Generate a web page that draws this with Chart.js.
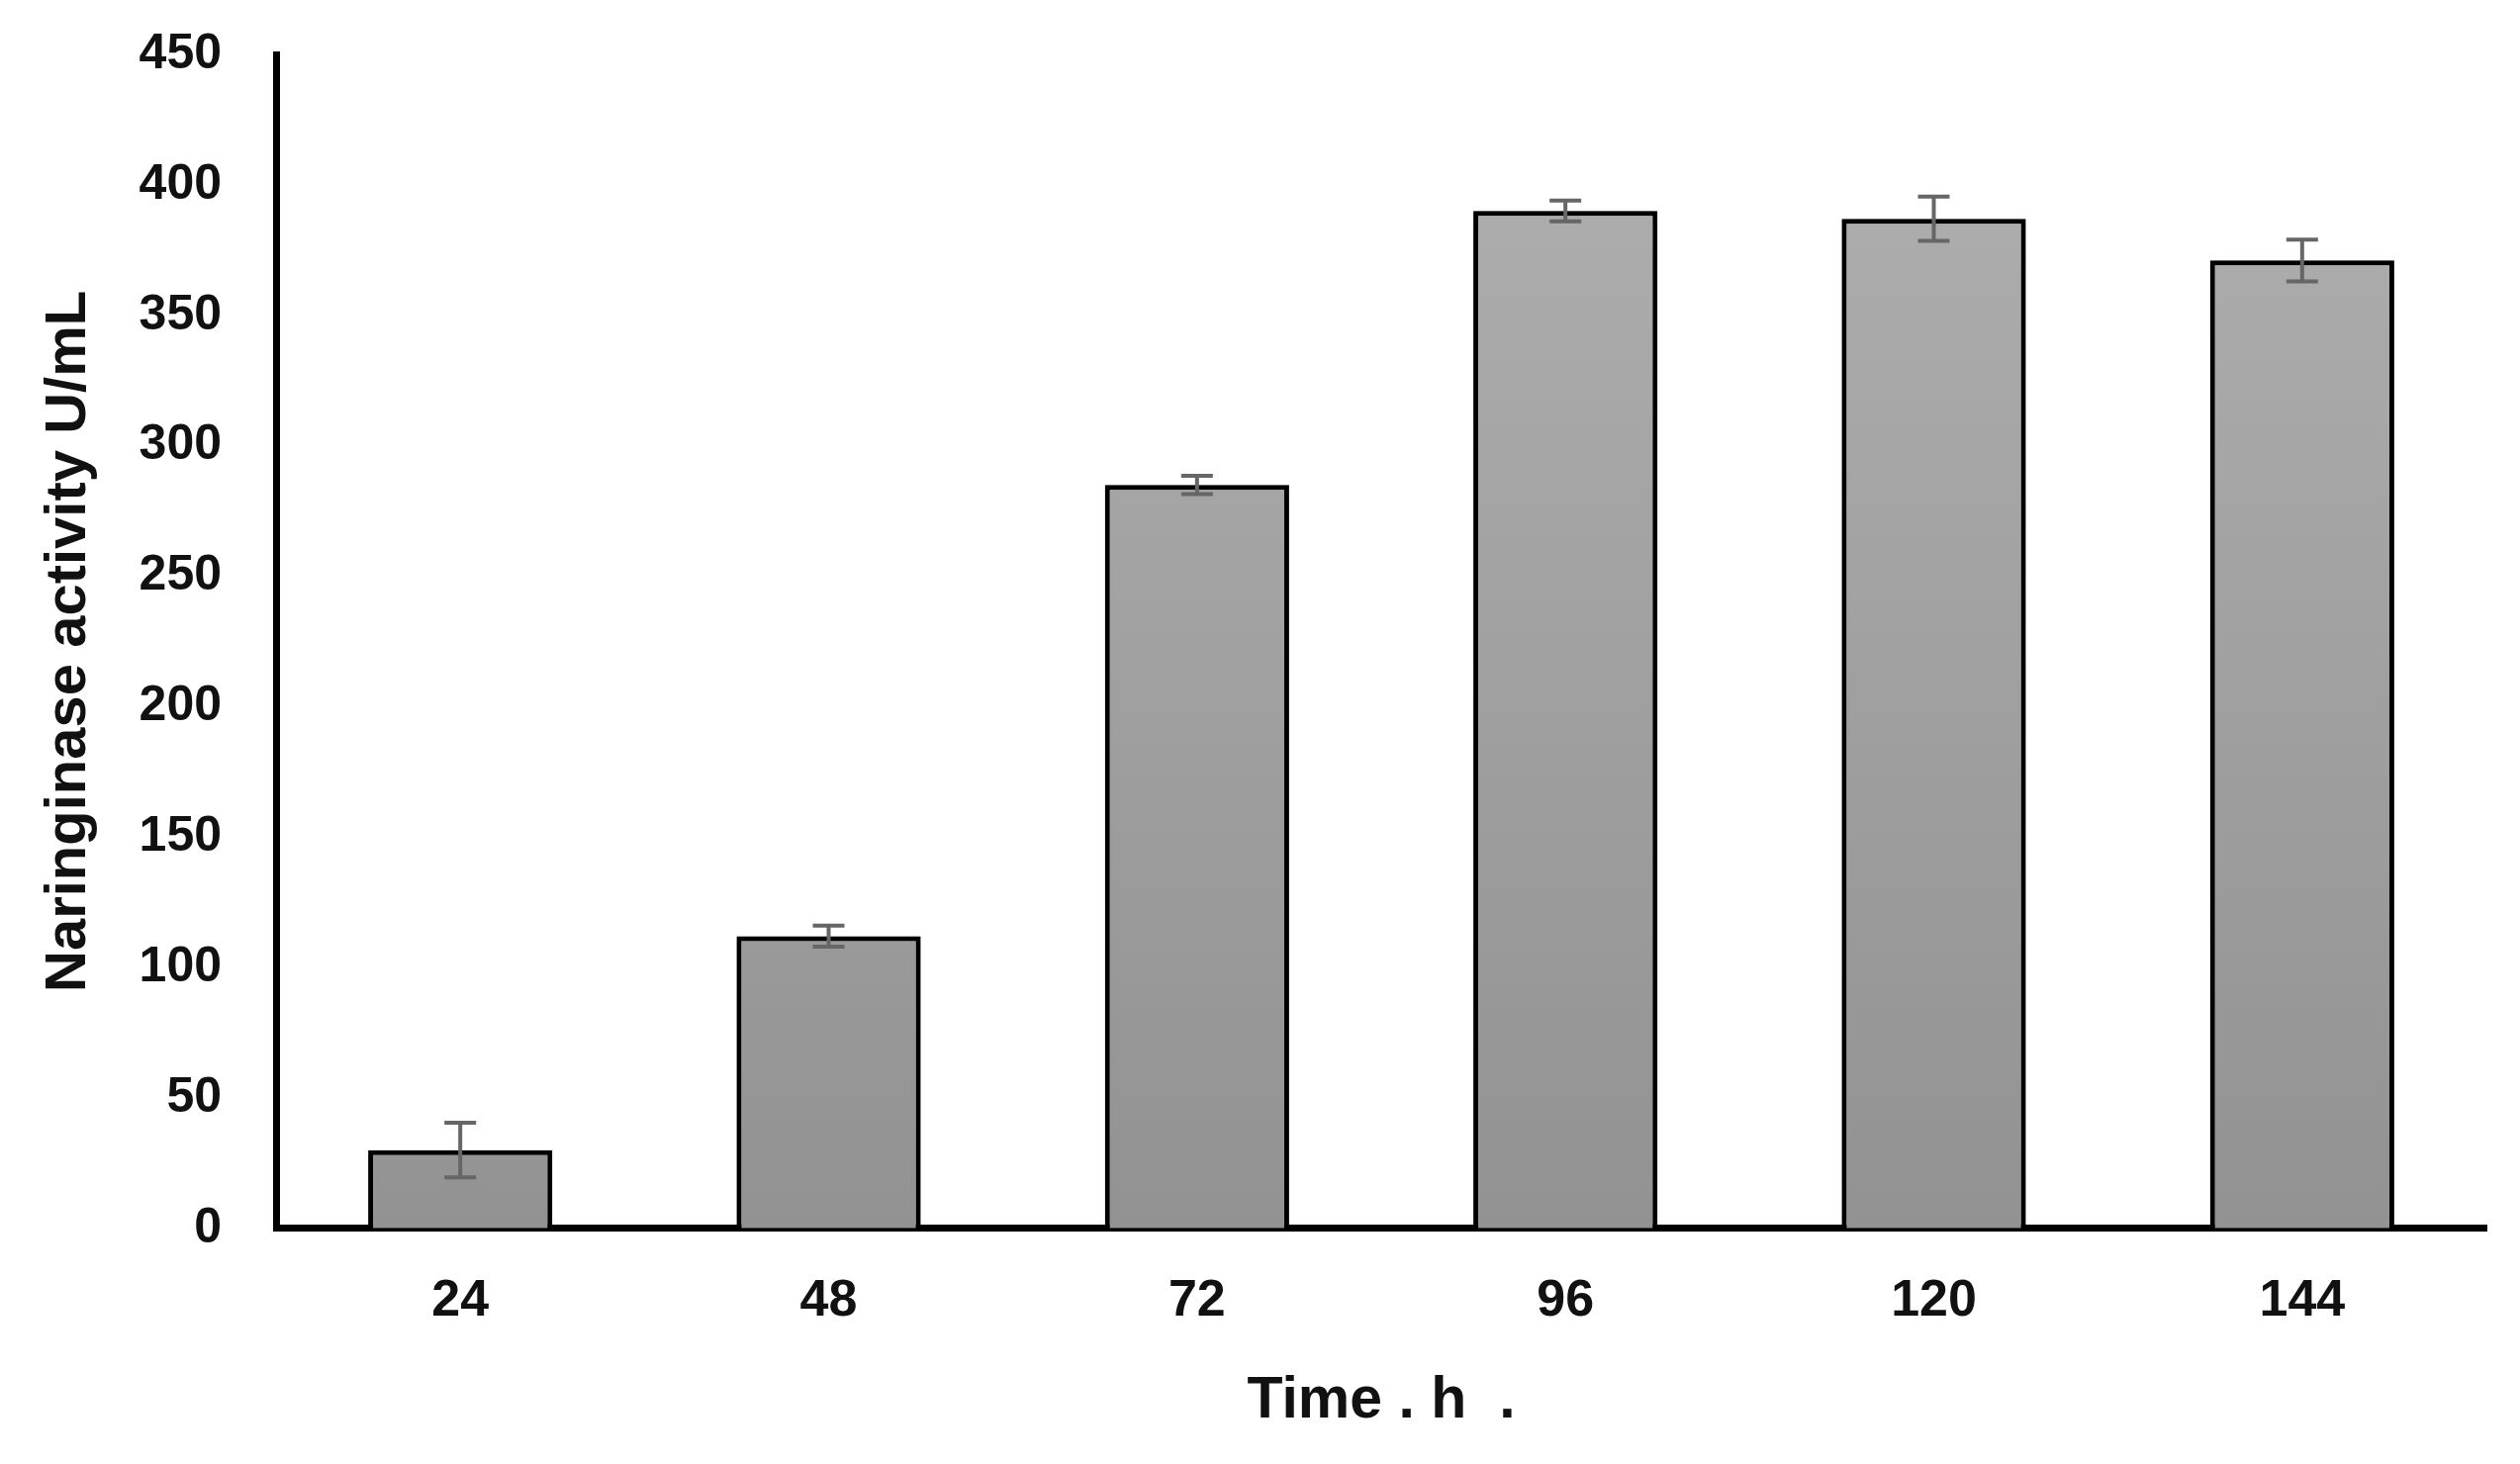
<!DOCTYPE html>
<html lang="en">
<head>
    <meta charset="UTF-8">
    <title>Naringinase Activity</title>
    <script src="https://cdn.jsdelivr.net/npm/chart.js"></script>
    <style>
        body { margin: 0; background: #fff; }
        #wrap { width: 2547px; height: 1480px; }
    </style>
</head>
<body>
    <div id="wrap"><canvas id="activityChart"></canvas></div>

    <script>
        // Data
        const times = ['24', '48', '72', '96', '120', '144'];
        const activity = [30, 112, 285, 390, 387, 371];
        const errors = [10.5, 4, 3.5, 4, 8.5, 8];
        const yTicks = [0, 50, 100, 150, 200, 250, 300, 350, 400, 450];

        const font = '"Liberation Sans", Arial, sans-serif';

        // gradient fill like the original bars
        function barFill(context) {
            const area = context.chart.chartArea;
            if (!area) return '#a3a3a3';
            const g = context.chart.ctx.createLinearGradient(0, area.top, 0, area.bottom);
            g.addColorStop(0, '#b0b0b0');
            g.addColorStop(1, '#929292');
            return g;
        }

        // soft shadow around the bars
        const barShadow = {
            id: 'barShadow',
            beforeDatasetsDraw(chart) {
                const ctx = chart.ctx;
                ctx.save();
                ctx.shadowColor = 'rgba(0,0,0,0.35)';
                ctx.shadowBlur = 10;
            },
            afterDatasetsDraw(chart) {
                chart.ctx.restore();
            }
        };

        // error bars drawn from the errors array
        const errorBars = {
            id: 'errorBars',
            afterDatasetsDraw(chart) {
                const ctx = chart.ctx;
                const y = chart.scales.y;
                const meta = chart.getDatasetMeta(0);
                ctx.save();
                ctx.strokeStyle = '#666666';
                ctx.lineWidth = 4;
                meta.data.forEach((bar, i) => {
                    const x = bar.x;
                    const top = y.getPixelForValue(activity[i] + errors[i]);
                    const bot = y.getPixelForValue(activity[i] - errors[i]);
                    ctx.beginPath();
                    ctx.moveTo(x, top); ctx.lineTo(x, bot);
                    ctx.moveTo(x - 16, top); ctx.lineTo(x + 16, top);
                    ctx.moveTo(x - 16, bot); ctx.lineTo(x + 16, bot);
                    ctx.stroke();
                });
                ctx.restore();
            }
        };

        const ctx = document.getElementById('activityChart').getContext('2d');
        const activityChart = new Chart(ctx, {
            type: 'bar',
            data: {
                labels: times,
                datasets: [{
                    label: 'Naringinase activity',
                    data: activity,
                    backgroundColor: barFill,
                    borderColor: '#000000',
                    borderWidth: 5,
                    borderSkipped: 'bottom',
                    barPercentage: 0.5,
                    categoryPercentage: 1.0
                }]
            },
            options: {
                responsive: true,
                maintainAspectRatio: false,
                animation: false,
                layout: { padding: { left: 31, right: 34, top: 55, bottom: 24 } },
                plugins: {
                    legend: { display: false },
                    tooltip: { enabled: false }
                },
                scales: {
                    x: {
                        grid: { display: false, drawTicks: false },
                        border: { display: true, color: '#000', width: 7 },
                        ticks: {
                            color: '#111',
                            padding: 43,
                            font: { family: font, size: 52, weight: 'bold' }
                        },
                        title: {
                            display: true,
                            text: 'Time . h  .',
                            color: '#111',
                            padding: { top: -9, bottom: 4 },
                            font: { family: font, size: 59, weight: 'bold' }
                        }
                    },
                    y: {
                        min: 0,
                        max: 450,
                        afterBuildTicks(axis) {
                            axis.ticks = yTicks.map(v => ({ value: v }));
                        },
                        // tick padding should only push labels sideways, not the top of the plot
                        afterFit(axis) {
                            axis.paddingTop = 30;
                        },
                        grid: { display: false, drawTicks: false },
                        border: { display: true, color: '#000', width: 7 },
                        ticks: {
                            color: '#111',
                            padding: 55,
                            font: { family: font, size: 50, weight: 'bold' }
                        },
                        title: {
                            display: true,
                            text: 'Naringinase activity U/mL',
                            color: '#111',
                            padding: { top: 4, bottom: -19 },
                            font: { family: font, size: 58, weight: 'bold' }
                        }
                    }
                }
            },
            plugins: [barShadow, errorBars]
        });
    </script>
</body>
</html>
